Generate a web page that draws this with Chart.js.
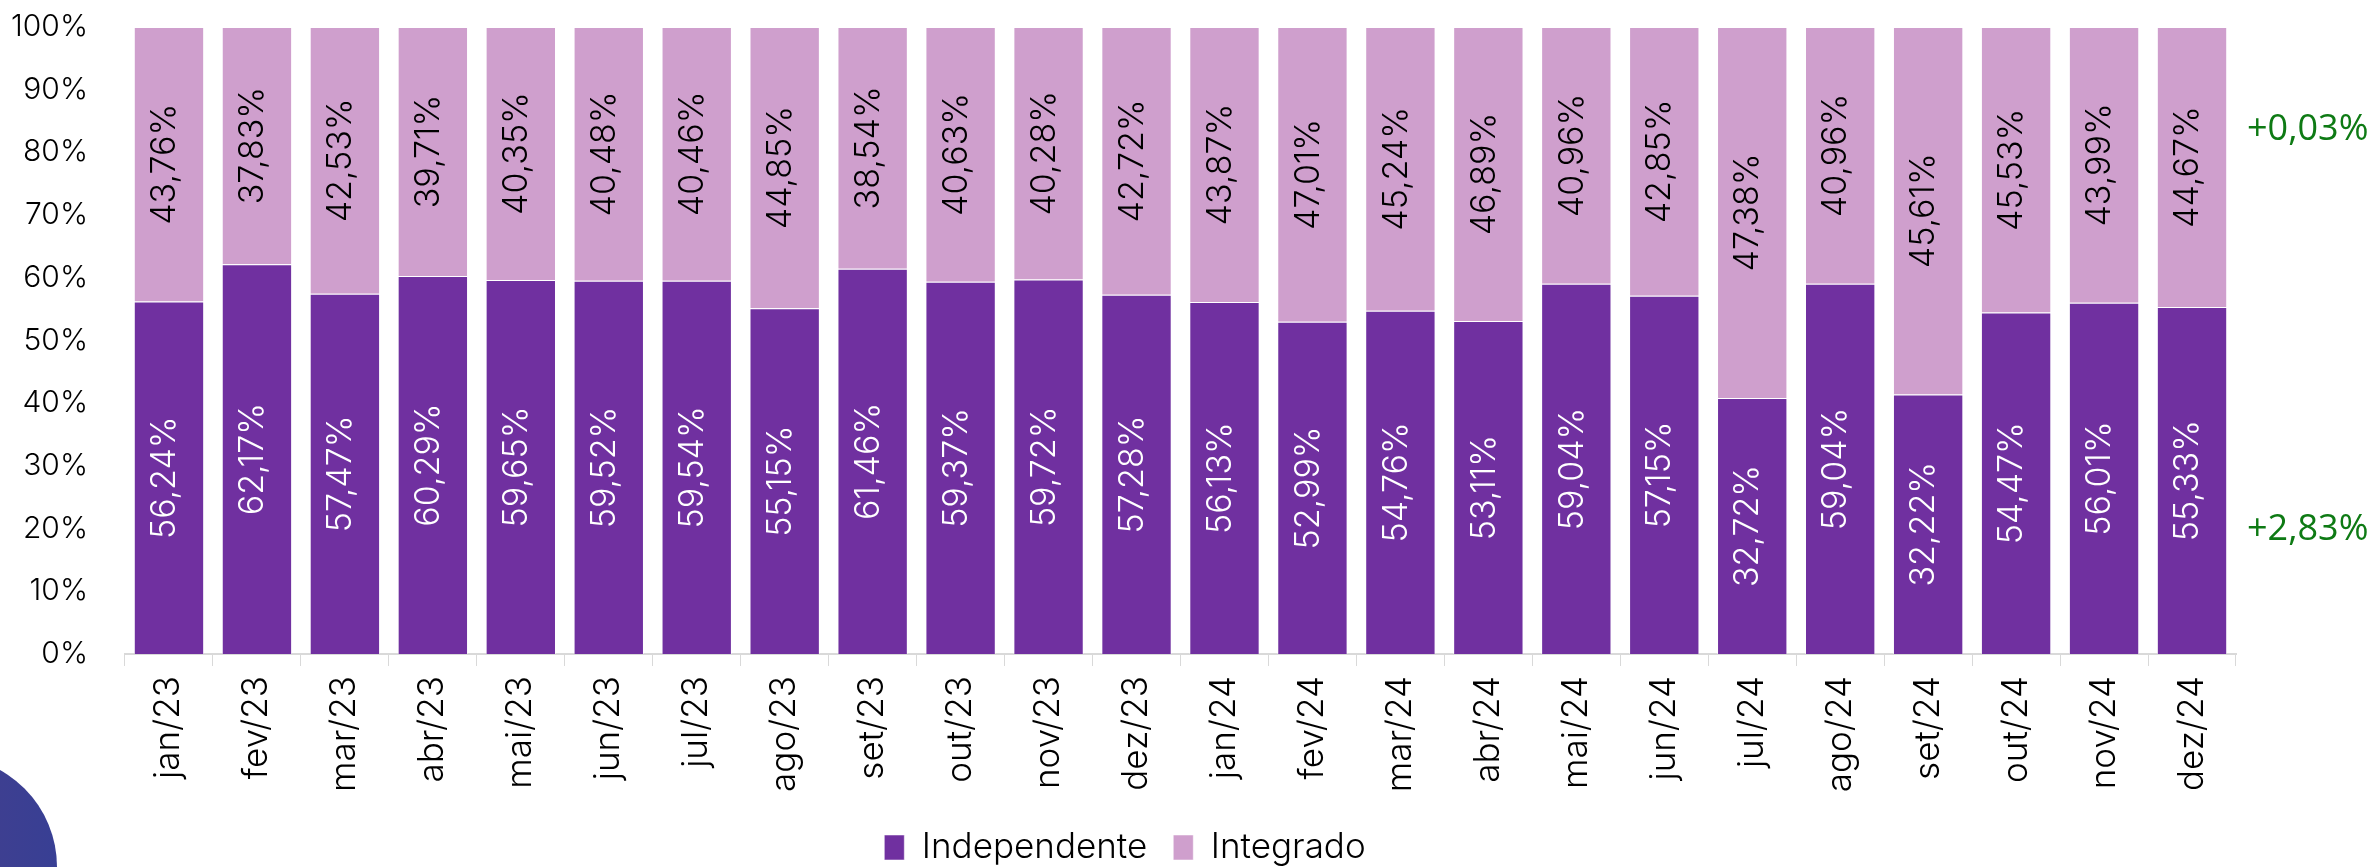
<!DOCTYPE html>
<html>
<head>
<meta charset="utf-8">
<script src="https://cdn.jsdelivr.net/npm/chart.js@4"></script>
<style>
  html, body { margin: 0; padding: 0; background: #fff; overflow: hidden; }
  #wrap { position: relative; width: 2377px; height: 867px; overflow: hidden; }
  #blob {
    position: absolute; left: -165px; top: 756px; width: 222px; height: 222px;
    border-radius: 50%; background: linear-gradient(90deg, #4d3f88, #383f94);
  }
  #chart-area { position: absolute; left: 0; top: 0; }
</style>
</head>
<body>
<div id="wrap">
  <div id="blob"></div>
  <canvas id="chart-area" width="2377" height="867"></canvas>
</div>
<script>
var meses = ['jan/23','fev/23','mar/23','abr/23','mai/23','jun/23','jul/23','ago/23','set/23','out/23','nov/23','dez/23',
             'jan/24','fev/24','mar/24','abr/24','mai/24','jun/24','jul/24','ago/24','set/24','out/24','nov/24','dez/24'];

var independente = [56.24, 62.17, 57.47, 60.29, 59.65, 59.52, 59.54, 55.15, 61.46, 59.37, 59.72, 57.28,
                    56.13, 52.99, 54.76, 53.11, 59.04, 57.15, 32.72, 59.04, 32.22, 54.47, 56.01, 55.33];
var integrado = [43.76, 37.83, 42.53, 39.71, 40.35, 40.48, 40.46, 44.85, 38.54, 40.63, 40.28, 42.72,
                 43.87, 47.01, 45.24, 46.89, 40.96, 42.85, 47.38, 40.96, 45.61, 45.53, 43.99, 44.67];

var yTicks = [0, 10, 20, 30, 40, 50, 60, 70, 80, 90, 100];

// variações mostradas à direita e onde ficam no eixo
var variacoes = ['+0,03%', '+2,83%'];
var variacaoY = [83.6, 19.8];

var FONT = "Inter, 'Noto Sans', sans-serif";

// barras 100% empilhadas: cada mês somado vira 100
function share(a, b) {
	return a.map(function (v, i) { return v / (a[i] + b[i]) * 100; });
}

function fmt(v) {
	return v.toFixed(2).replace('.', ',') + '%';
}

var barLabels = {
	id: 'barLabels',
	afterDatasetsDraw: function (chart) {
		var ctx = chart.ctx;
		chart.data.datasets.forEach(function (ds, i) {
			var meta = chart.getDatasetMeta(i);
			meta.data.forEach(function (bar, j) {
				ctx.save();
				ctx.translate(bar.x - 4, (bar.y + bar.base) / 2);
				ctx.rotate(-Math.PI / 2);
				ctx.font = "300 34px " + FONT;
				ctx.fillStyle = ds.labelColor;
				ctx.textAlign = 'center';
				ctx.textBaseline = 'middle';
				ctx.fillText(fmt(ds.raw[j]), 0, 0);
				ctx.restore();
			});
		});
	}
};

var sideNotes = {
	id: 'sideNotes',
	afterDraw: function (chart) {
		var ctx = chart.ctx, y = chart.scales.y;
		ctx.save();
		ctx.font = "36px 'Open Sans', sans-serif";
		ctx.fillStyle = '#0e7a14';
		ctx.textAlign = 'left';
		ctx.textBaseline = 'middle';
		variacoes.forEach(function (t, i) {
			ctx.fillText(t, chart.chartArea.right + 11, y.getPixelForValue(variacaoY[i]));
		});
		ctx.restore();
	}
};

// legenda centrada em x ~1137
var legendShift = {
	id: 'legendShift',
	afterLayout: function (chart) {
		var lg = chart.legend;
		lg.left = 0;
		lg.right = 2250;
		lg.width = 2250;
	}
};

var myBar = new Chart(document.getElementById('chart-area'), {
	type: 'bar',
	data: {
		labels: meses,
		datasets: [{
			label: 'Independente',
			data: share(independente, integrado),
			raw: independente,
			labelColor: '#ffffff',
			backgroundColor: '#7030a0',
			borderColor: 'rgba(255,255,255,0.5)',
			borderWidth: 1
		}, {
			label: 'Integrado',
			data: share(integrado, independente),
			raw: integrado,
			labelColor: '#000000',
			backgroundColor: '#cf9fcd',
			borderColor: 'rgba(255,255,255,0.5)',
			borderWidth: 1
		}]
	},
	options: {
		responsive: false,
		animation: false,
		devicePixelRatio: 1,
		layout: { padding: { top: 27, right: 141, left: 0, bottom: -8 } },
		datasets: { bar: { categoryPercentage: 0.8, barPercentage: 1 } },
		plugins: {
			tooltip: { enabled: false },
			legend: {
				position: 'bottom',
				labels: {
					boxWidth: 20,
					boxHeight: 25,
					padding: 26,
					color: '#000',
					font: { family: FONT, size: 35, weight: '300' }
				}
			}
		},
		scales: {
			x: {
				stacked: true,
				afterFit: function (s) { s.height = 150; },
				grid: { drawOnChartArea: false, drawTicks: true, tickLength: 12, color: '#d9d9d9', offset: true },
				border: { display: true, color: '#d9d9d9', width: 2 },
				ticks: {
					minRotation: 90, maxRotation: 90, padding: 10, color: '#000',
					font: { family: FONT, size: 35, weight: '300' }
				}
			},
			y: {
				stacked: true,
				min: 0,
				max: 100,
				afterFit: function (s) { s.width = 125; },
				afterBuildTicks: function (s) { s.ticks = yTicks.map(function (v) { return { value: v }; }); },
				grid: { display: false, drawTicks: true, tickLength: 34 },
				border: { display: false },
				ticks: {
					padding: 3, color: '#000',
					font: { family: FONT, size: 30, weight: '300' },
					callback: function (v) { return v + '%'; }
				}
			}
		}
	},
	plugins: [barLabels, sideNotes, legendShift]
});
</script>
</body>
</html>
